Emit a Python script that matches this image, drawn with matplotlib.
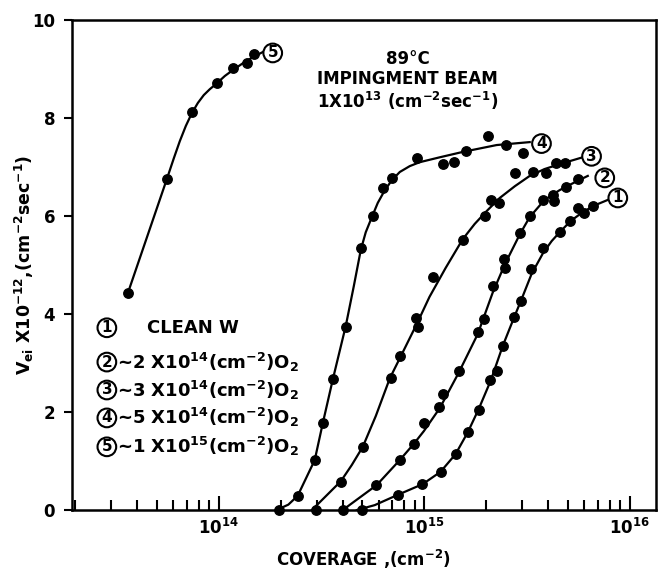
import matplotlib
matplotlib.use("Agg")
import matplotlib.pyplot as plt
import numpy as np

# ---------------------------------------------------------------- data
# measured points (coverage cm^-2, V_ei x 1e-12)
c1_x = [5.00e14, 7.45e14, 9.79e14, 1.20e15, 1.42e15, 1.63e15, 1.85e15, 2.10e15, 2.25e15,
        2.42e15, 2.73e15, 2.97e15, 3.32e15, 3.79e15, 4.58e15, 5.13e15, 5.60e15, 5.97e15, 6.63e15]
c1_y = [0.0, 0.31, 0.53, 0.78, 1.14, 1.60, 2.05, 2.65, 2.84,
        3.35, 3.95, 4.27, 4.93, 5.34, 5.68, 5.90, 6.16, 6.06, 6.21]

c2_x = [4.03e14, 5.85e14, 7.60e14, 8.89e14, 9.95e14, 1.18e15, 1.23e15, 1.48e15, 1.83e15, 1.95e15,
        2.16e15, 2.44e15, 2.48e15, 2.92e15, 3.26e15, 3.78e15, 4.24e15, 4.27e15, 4.92e15, 5.58e15]
c2_y = [0.0, 0.51, 1.02, 1.35, 1.78, 2.10, 2.37, 2.84, 3.63, 3.89,
        4.57, 5.12, 4.95, 5.65, 6.00, 6.33, 6.43, 6.31, 6.60, 6.75]

c3_x = [2.96e14, 3.93e14, 5.04e14, 6.85e14, 7.66e14, 9.10e14, 9.33e14, 1.10e15, 1.55e15,
        1.97e15, 2.12e15, 2.31e15, 2.76e15, 3.38e15, 3.90e15, 4.40e15, 4.83e15]
c3_y = [0.0, 0.58, 1.29, 2.69, 3.14, 3.91, 3.74, 4.76, 5.52,
        6.00, 6.33, 6.27, 6.88, 6.90, 6.87, 7.08, 7.09]

c4_x = [1.96e14, 2.43e14, 2.93e14, 3.22e14, 3.60e14, 4.15e14, 4.92e14, 5.60e14, 6.28e14,
        6.98e14, 9.20e14, 1.23e15, 1.39e15, 1.59e15, 2.04e15, 2.49e15, 3.01e15]
c4_y = [0.0, 0.29, 1.02, 1.78, 2.67, 3.74, 5.35, 6.00, 6.58,
        6.77, 7.19, 7.07, 7.11, 7.33, 7.63, 7.45, 7.29]

c5_x = [3.61e13, 5.58e13, 7.39e13, 9.78e13, 1.17e14, 1.37e14, 1.48e14]
c5_y = [4.43, 6.75, 8.12, 8.71, 9.02, 9.12, 9.31]

# hand-drawn smooth curves
f1_x = [4.70e14, 5.74e14, 7.43e14, 9.84e14, 1.20e15, 1.42e15, 1.63e15, 1.84e15, 2.11e15, 2.41e15,
        2.73e15, 2.98e15, 3.33e15, 3.78e15, 4.17e15, 4.56e15, 5.16e15, 5.90e15, 6.76e15, 7.82e15]
f1_y = [0.0, 0.10, 0.31, 0.53, 0.78, 1.14, 1.59, 2.06, 2.65, 3.35,
        3.92, 4.31, 4.82, 5.24, 5.49, 5.67, 5.90, 6.08, 6.22, 6.33]

f2_x = [4.01e14, 5.87e14, 7.60e14, 8.89e14, 9.95e14, 1.19e15, 1.47e15, 1.82e15, 2.15e15,
        2.47e15, 2.92e15, 3.26e15, 3.85e15, 4.56e15, 5.40e15, 6.25e15]
f2_y = [0.0, 0.51, 1.02, 1.35, 1.61, 2.08, 2.80, 3.59, 4.43,
        5.02, 5.63, 5.98, 6.33, 6.53, 6.69, 6.82]

f3_x = [2.84e14, 3.93e14, 4.44e14, 5.02e14, 5.81e14, 6.80e14, 7.69e14, 9.20e14, 1.06e15, 1.27e15,
        1.54e15, 1.76e15, 2.01e15, 2.33e15, 2.76e15, 3.26e15, 3.85e15, 4.56e15, 5.90e15]
f3_y = [0.0, 0.59, 0.92, 1.29, 1.92, 2.69, 3.14, 3.80, 4.35, 4.94,
        5.53, 5.84, 6.10, 6.37, 6.61, 6.82, 6.96, 7.06, 7.20]

f4_x = [1.91e14, 2.18e14, 2.42e14, 2.93e14, 3.21e14, 3.59e14, 4.15e14, 4.54e14, 4.91e14, 5.19e14,
        5.56e14, 5.94e14, 6.43e14, 6.95e14, 7.60e14, 8.50e14, 9.50e14, 1.19e15, 1.54e15,
        2.25e15, 3.26e15]
f4_y = [0.0, 0.11, 0.29, 1.02, 1.78, 2.67, 3.76, 4.57, 5.31, 5.67,
        5.98, 6.27, 6.53, 6.73, 6.90, 7.02, 7.10, 7.20, 7.31,
        7.45, 7.51]

f5_x = [3.61e13, 5.58e13, 6.04e13, 6.46e13, 6.91e13, 7.39e13, 7.91e13, 8.45e13, 9.04e13, 9.78e13,
        1.07e14, 1.17e14, 1.31e14, 1.46e14, 1.64e14]
f5_y = [4.43, 6.75, 7.18, 7.53, 7.84, 8.10, 8.31, 8.47, 8.59, 8.71,
        8.86, 8.98, 9.12, 9.24, 9.35]

curve_ids = ["1", "2", "3", "4", "5"]
legend_lines = ["CLEAN W",
                r"~2 X10$^{14}$(cm$^{-2}$)O$_2$",
                r"~3 X10$^{14}$(cm$^{-2}$)O$_2$",
                r"~5 X10$^{14}$(cm$^{-2}$)O$_2$",
                r"~1 X10$^{15}$(cm$^{-2}$)O$_2$"]

# ---------------------------------------------------------------- style
plt.rcParams["font.family"] = ["DejaVu Sans"]
plt.rcParams["font.weight"] = "bold"
plt.rcParams["axes.labelweight"] = "bold"
plt.rcParams["mathtext.fontset"] = "custom"
plt.rcParams["mathtext.rm"] = "DejaVu Sans:bold"
plt.rcParams["mathtext.it"] = "DejaVu Sans:bold"
plt.rcParams["mathtext.bf"] = "DejaVu Sans:bold"
plt.rcParams["mathtext.default"] = "rm"

fig = plt.figure(figsize=(6.59, 5.75), dpi=100)
ax = fig.add_axes([0.109, 0.113, 0.886, 0.852])

pts = [(c1_x, c1_y), (c2_x, c2_y), (c3_x, c3_y), (c4_x, c4_y), (c5_x, c5_y)]
fits = [(f1_x, f1_y), (f2_x, f2_y), (f3_x, f3_y), (f4_x, f4_y), (f5_x, f5_y)]
for (fx, fy), (px, py) in zip(fits, pts):
    ax.plot(fx, fy, color="black", lw=1.6, zorder=2, solid_joinstyle="round")
    ax.plot(px, py, "o", color="black", ms=6.8, zorder=3, clip_on=False)

# circled curve labels at the curve ends
label_pos = [(8.75e15, 6.37), (7.56e15, 6.78), (6.52e15, 7.22), (3.72e15, 7.48), (1.83e14, 9.33)]
circ = dict(boxstyle="circle,pad=0.12", fc="white", ec="black", lw=1.5)
for cid, (lx, ly) in zip(curve_ids, label_pos):
    ax.text(lx, ly, cid, ha="center", va="center", fontsize=11, bbox=circ, zorder=4)

ax.set_xscale("log")
ax.set_xlim(1.926e13, 1.338e16)
ax.set_ylim(0, 10)
ax.set_yticks([0, 2, 4, 6, 8, 10])
ax.set_yticklabels(["0", "2", "4", "6", "8", "10"])
ax.set_xticks([1e14, 1e15, 1e16])
ax.set_xticklabels([r"10$^{14}$", r"10$^{15}$", r"10$^{16}$"])
ax.xaxis.set_minor_locator(matplotlib.ticker.LogLocator(base=10, subs=np.arange(2, 10)))
ax.xaxis.set_minor_formatter(matplotlib.ticker.NullFormatter())

ax.tick_params(axis="x", which="major", direction="in", length=10, width=1.5, labelsize=12, pad=6)
ax.tick_params(axis="x", which="minor", direction="in", length=7, width=1.5)
ax.tick_params(axis="y", which="major", direction="out", length=6, width=1.5, labelsize=12, pad=6)
for s in ax.spines.values():
    s.set_linewidth(1.8)

ax.set_xlabel(r"COVERAGE ,(cm$^{-2}$)", fontsize=12, labelpad=7)
ax.set_ylabel(r"V$_{ei}$ X10$^{-12}$,(cm$^{-2}$sec$^{-1}$)", fontsize=12.5, labelpad=-3)

# annotation block
ax.text(0.575, 0.92, "89°C", transform=ax.transAxes, ha="center", va="center", fontsize=12)
ax.text(0.575, 0.88, "IMPINGMENT BEAM", transform=ax.transAxes, ha="center", va="center", fontsize=12)
ax.text(0.575, 0.835, r"1X10$^{13}$ (cm$^{-2}$sec$^{-1}$)", transform=ax.transAxes,
        ha="center", va="center", fontsize=12)

# legend block
legend_y = [0.372, 0.302, 0.245, 0.188, 0.129]
for i, (cid, txt) in enumerate(zip(curve_ids, legend_lines)):
    ax.text(0.06, legend_y[i], cid, transform=ax.transAxes, ha="center", va="center",
            fontsize=11, bbox=circ)
    xx = 0.128 if i == 0 else 0.078
    ax.text(xx, legend_y[i], txt, transform=ax.transAxes, ha="left", va="center", fontsize=13)

fig.savefig("out.png", dpi=100)
